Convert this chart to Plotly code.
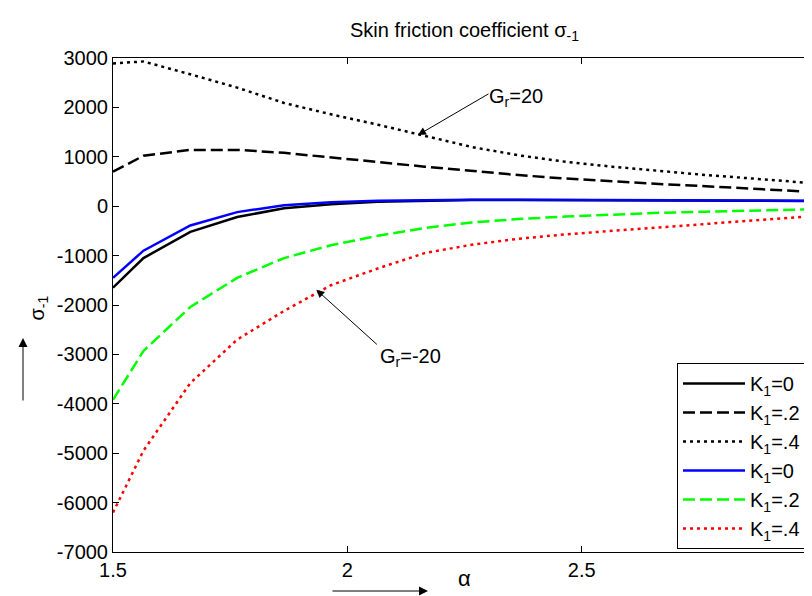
import plotly.graph_objects as go

alpha = [1.5, 1.565, 1.665, 1.765, 1.865, 1.965, 2.065, 2.165, 2.265,
         2.365, 2.465, 2.565, 2.665, 2.765, 2.865, 2.965, 3.0]

# Gr = 20 (black)
k0_pos = [-1650, -1050, -520, -220, -40, 40, 90, 115, 125, 125, 125, 125, 120, 115, 110, 105, 105]
k2_pos = [700, 1020, 1140, 1140, 1080, 980, 895, 800, 710, 630, 560, 500, 450, 405, 360, 300, 285]
k4_pos = [2890, 2930, 2670, 2400, 2090, 1860, 1650, 1420, 1200, 1030, 900, 800, 710, 630, 560, 490, 460]
# Gr = -20 (colored)
k0_neg = [-1450, -900, -390, -120, 20, 80, 110, 125, 130, 130, 130, 128, 125, 120, 115, 110, 110]
k2_neg = [-3920, -2930, -2040, -1450, -1050, -790, -600, -440, -330, -260, -210, -170, -135, -110, -85, -65, -60]
k4_neg = [-6200, -4950, -3580, -2700, -2120, -1600, -1260, -950, -780, -660, -570, -500, -430, -360, -290, -215, -195]

legend_names = ["K<sub>1</sub>=0", "K<sub>1</sub>=.2", "K<sub>1</sub>=.4",
                "K<sub>1</sub>=0", "K<sub>1</sub>=.2", "K<sub>1</sub>=.4"]

x_ticks = [1.5, 2, 2.5, 3]
x_tick_text = ["1.5", "2", "2.5", "3"]
y_ticks = [-7000, -6000, -5000, -4000, -3000, -2000, -1000, 0, 1000, 2000, 3000]
y_tick_text = ["-7000", "-6000", "-5000", "-4000", "-3000", "-2000", "-1000", "0", "1000", "2000", "3000"]

title_text = "Skin friction coefficient σ<sub>-1</sub>"
ann_pos = "G<sub>r</sub>=20"
ann_neg = "G<sub>r</sub>=-20"
ann_pos_tip = (2.1507, 1441)
ann_neg_tip = (1.9338, -1690)

FONT = "Liberation Sans, Arial, sans-serif"
W = 2.5
series = [
    (k0_pos, "black", "solid"),
    (k2_pos, "black", "12px,5px"),
    (k4_pos, "black", "3px,4px"),
    (k0_neg, "#0000ff", "solid"),
    (k2_neg, "#00ff00", "12px,5px"),
    (k4_neg, "#ff0000", "3px,4px"),
]

L, R, T, B = 105, 808, 50, 544
PW, PH = R - L, B - T

fig = go.Figure()
for (vals, col, dash), name in zip(series, legend_names):
    fig.add_trace(go.Scatter(x=alpha, y=vals, mode="lines", name=name,
                             line=dict(color=col, width=W, dash=dash)))

axis_common = dict(showgrid=False, zeroline=False, showline=True, linecolor="black",
                   linewidth=1, mirror="ticks", ticks="inside", ticklen=6,
                   tickcolor="black", automargin=False, ticklabeloverflow="allow",
                   tickfont=dict(family=FONT, size=20, color="black"))

fig.update_xaxes(range=[1.5, 3], tickvals=x_ticks, ticktext=x_tick_text, **axis_common)
fig.update_yaxes(range=[-7000, 3000], tickvals=y_ticks, ticktext=y_tick_text, **axis_common)

annotations = [
    dict(x=ann_pos_tip[0], y=ann_pos_tip[1], xref="x", yref="y", text="",
         showarrow=True, ax=72, ay=-42, arrowhead=2, arrowsize=1.6, arrowwidth=1,
         arrowcolor="black"),
    dict(x=ann_pos_tip[0], y=ann_pos_tip[1], xref="x", yref="y", text=ann_pos,
         showarrow=False, xshift=69, yshift=38, xanchor="left", yanchor="middle",
         font=dict(family=FONT, size=20, color="black")),
    dict(x=ann_neg_tip[0], y=ann_neg_tip[1], xref="x", yref="y", text="",
         showarrow=True, ax=62, ay=56, arrowhead=2, arrowsize=1.6, arrowwidth=1,
         arrowcolor="black"),
    dict(x=ann_neg_tip[0], y=ann_neg_tip[1], xref="x", yref="y", text=ann_neg,
         showarrow=False, xshift=62, yshift=-68, xanchor="left", yanchor="middle",
         font=dict(family=FONT, size=20, color="black")),
]

fig.update_layout(
    width=812, height=596,
    margin=dict(l=L, r=812 - R, t=T, b=596 - B, autoexpand=False),
    paper_bgcolor="white", plot_bgcolor="white",
    title=dict(text=title_text, x=(L + R) / 2 / 812, xanchor="center",
               y=1 - 22 / 596, yanchor="middle",
               font=dict(family=FONT, size=20, color="black")),
    showlegend=True,
    legend=dict(x=(798 - L) / PW, xanchor="right", y=(B - 541) / PH, yanchor="bottom",
                bgcolor="white", bordercolor="black", borderwidth=1,
                font=dict(family=FONT, size=20, color="black"),
                tracegroupgap=0, itemwidth=62),
    annotations=annotations,
)

def px_to_paper(px, py):
    return (px - L) / PW, (B - py) / PH

sx, sy = px_to_paper(15, 300)
fig.add_annotation(x=sx, y=sy, xref="paper", yref="paper", text="σ<sub>-1</sub>",
                   textangle=-90, showarrow=False,
                   font=dict(family=FONT, size=20, color="black"))
hx, hy = px_to_paper(15, 330)
fig.add_annotation(x=hx, y=hy, xref="paper", yref="paper", text="", showarrow=True,
                   ax=0, ay=64, arrowhead=2, arrowsize=1.8, arrowwidth=1, arrowcolor="black")
ax_, ay_ = px_to_paper(456, 585)
fig.add_annotation(x=ax_, y=ay_, xref="paper", yref="paper", text="α", showarrow=False,
                   font=dict(family=FONT, size=22, color="black"))
hx2, hy2 = px_to_paper(420, 583)
fig.add_annotation(x=hx2, y=hy2, xref="paper", yref="paper", text="", showarrow=True,
                   ax=-97, ay=0, arrowhead=2, arrowsize=1.8, arrowwidth=1, arrowcolor="black")

fig.write_html("out.html")
